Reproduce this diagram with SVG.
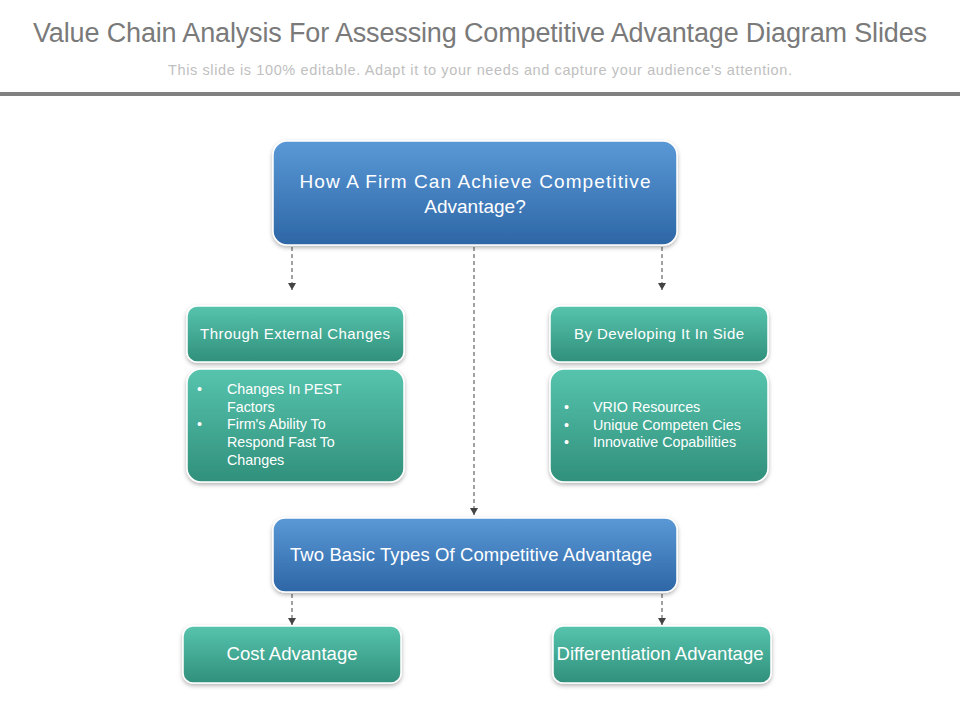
<svg xmlns="http://www.w3.org/2000/svg" width="960" height="720" viewBox="0 0 960 720">
<style>
.t{font-family:"Liberation Sans",Arial,sans-serif;fill:#fff;text-anchor:middle}
.b{font-family:"Liberation Sans",Arial,sans-serif;fill:#fff;font-size:14.3px}
.blue{fill:url(#gb);stroke:#fff;stroke-width:1.5;filter:url(#sh)}
.teal{fill:url(#gt);stroke:#fff;stroke-width:1.5;filter:url(#sh)}
.c{stroke:#444;stroke-width:1;stroke-dasharray:4,3;fill:none;marker-end:url(#ar)}
</style>
<defs>
<linearGradient id="gb" x1="0" y1="0" x2="0" y2="1">
<stop offset="0" stop-color="#5a98d6"/><stop offset="1" stop-color="#2d66a6"/>
</linearGradient>
<linearGradient id="gt" x1="0" y1="0" x2="0" y2="1">
<stop offset="0" stop-color="#57c4ae"/><stop offset="1" stop-color="#30907b"/>
</linearGradient>
<filter id="sh" x="-10%" y="-10%" width="120%" height="130%">
<feDropShadow dx="0" dy="2" stdDeviation="2" flood-color="#000" flood-opacity="0.3"/>
</filter>
<marker id="ar" markerWidth="8" markerHeight="9" refX="7" refY="4" orient="auto" markerUnits="userSpaceOnUse" viewBox="0 0 8 9">
<path d="M0,0 L7,4 L0,8 z" fill="#444"/>
</marker>
</defs>
<rect width="960" height="720" fill="#fff"/>
<text x="480" y="42" font-family="'Liberation Sans',Arial,sans-serif" font-size="27" fill="#7a7a7a" text-anchor="middle" textLength="894">Value Chain Analysis For Assessing Competitive Advantage Diagram Slides</text>
<text x="480" y="75" font-family="'Liberation Sans',Arial,sans-serif" font-size="14.5" fill="#c0c0c0" text-anchor="middle" textLength="624">This slide is 100% editable. Adapt it to your needs and capture your audience's attention.</text>
<rect x="0" y="92" width="960" height="4" fill="#808080"/>
<g id="connectors">
<line class="c" x1="292" y1="247" x2="292" y2="290"/>
<line class="c" x1="474" y1="247" x2="474" y2="515"/>
<line class="c" x1="662" y1="247" x2="662" y2="290"/>
<line class="c" x1="292" y1="594" x2="292" y2="625"/>
<line class="c" x1="662" y1="594" x2="662" y2="625"/>
</g>
<g id="top">
<rect class="blue" x="273" y="141" width="404" height="104" rx="14"/>
<text class="t" x="475" y="188" font-size="19" textLength="351">How A Firm Can Achieve Competitive</text>
<text class="t" x="475" y="213" font-size="19">Advantage?</text>
</g>
<g id="external">
<rect class="teal" x="187" y="306" width="217" height="56" rx="10"/>
<text class="t" x="295" y="339" font-size="15" textLength="190">Through  External  Changes</text>
</g>
<g id="external-list">
<rect class="teal" x="187" y="369" width="217" height="113" rx="14"/>
<text class="b" x="197" y="394">•</text>
<text class="b" x="227" y="394">Changes In PEST</text>
<text class="b" x="227" y="412">Factors</text>
<text class="b" x="197" y="429">•</text>
<text class="b" x="227" y="429">Firm's Ability  To</text>
<text class="b" x="227" y="447">Respond Fast To</text>
<text class="b" x="227" y="465">Changes</text>
</g>
<g id="inside">
<rect class="teal" x="550" y="306" width="218" height="56" rx="10"/>
<text class="t" x="659" y="339" font-size="15" textLength="170">By Developing It  In  Side</text>
</g>
<g id="inside-list">
<rect class="teal" x="550" y="369" width="218" height="113" rx="14"/>
<text class="b" x="564" y="412">•</text>
<text class="b" x="593" y="412">VRIO Resources</text>
<text class="b" x="564" y="430">•</text>
<text class="b" x="593" y="430">Unique  Competen Cies</text>
<text class="b" x="564" y="447">•</text>
<text class="b" x="593" y="447">Innovative  Copabilities</text>
</g>
<g id="types">
<rect class="blue" x="273" y="518" width="404" height="74" rx="12"/>
<text class="t" x="471" y="561" font-size="18.5" textLength="362">Two Basic Types Of Competitive Advantage</text>
</g>
<g id="cost">
<rect class="teal" x="183" y="626" width="218" height="57" rx="10"/>
<text class="t" x="292" y="660" font-size="18.5" textLength="131">Cost Advantage</text>
</g>
<g id="diff">
<rect class="teal" x="553" y="626" width="218" height="57" rx="10"/>
<text class="t" x="660" y="660" font-size="18.5" textLength="207">Differentiation Advantage</text>
</g>
</svg>
